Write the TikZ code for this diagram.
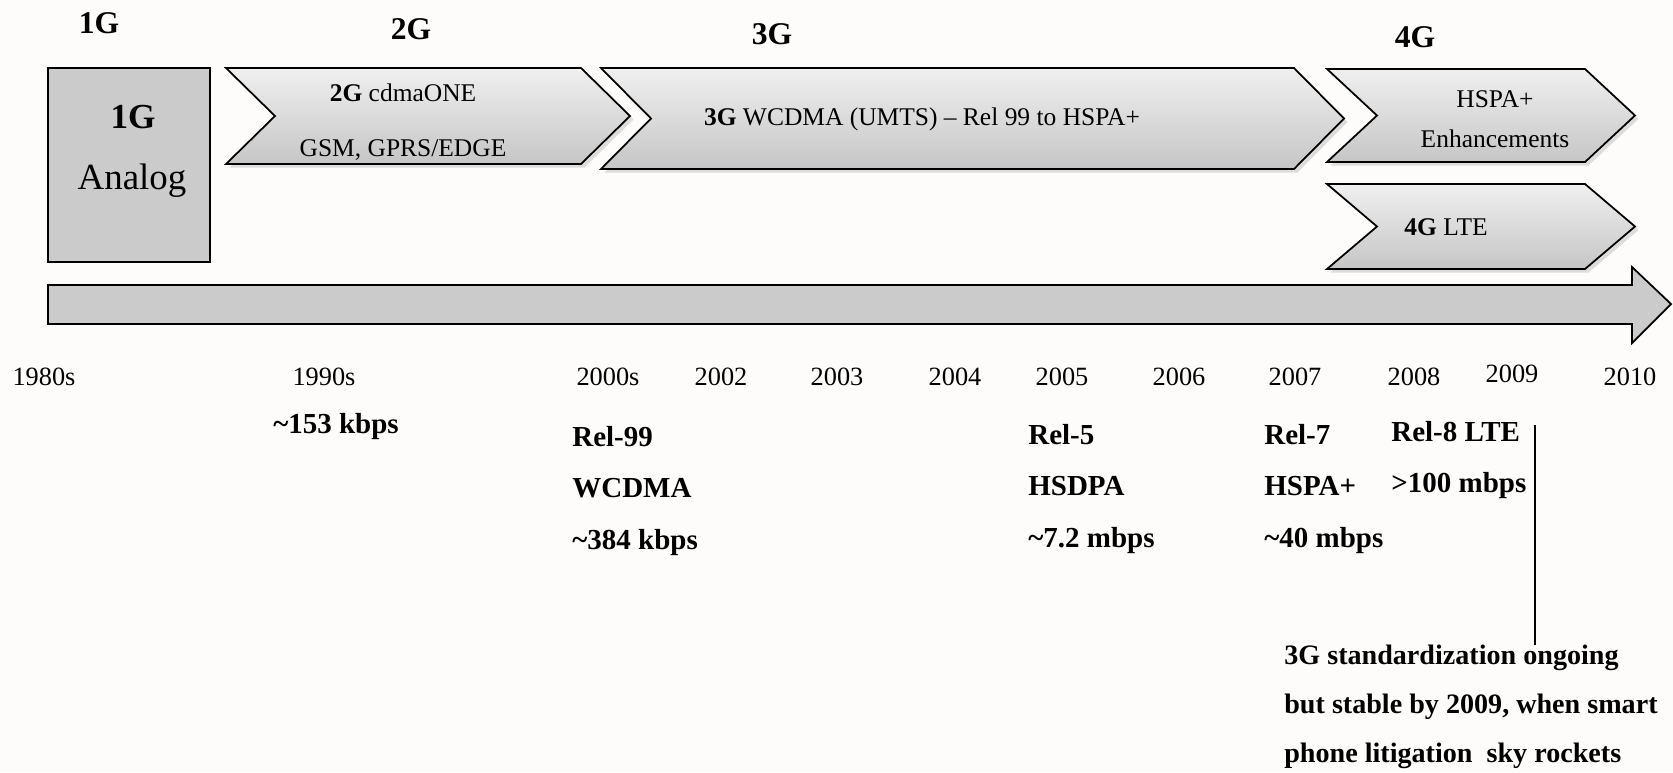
\documentclass[tikz,border=0pt]{standalone}
\usepackage{fontspec}
\setmainfont{Liberation Serif}
\usetikzlibrary{shadows}

\definecolor{paper}{HTML}{FDFCFA}
\definecolor{boxgray}{HTML}{CBCBCB}

% chevron: left, right, top, bottom, depth
\newcommand{\chevron}[5]{%
  \path[chev] (#1,#3) -- (#2-#5,#3) -- (#2,{(#3+#4)/2}) -- (#2-#5,#4)
    -- (#1,#4) -- (#1+#5,{(#3+#4)/2}) -- cycle;}

\begin{document}
\begin{tikzpicture}[x=0.02cm, y=-0.02cm]
  \tikzstyle{chev} = [draw=black, line width=1pt, line join=miter,
                      top color=gray!12, bottom color=gray!45,
                      drop shadow={shadow xshift=2pt, shadow yshift=-2pt,
                                   opacity=.25}]
  \tikzstyle{box} = [draw=black, line width=1pt, fill=boxgray]
  \tikzstyle{gen} = [font=\fontsize{18}{20}\selectfont\bfseries]
  \tikzstyle{chevtxt} = [font=\fontsize{14.5}{31}\selectfont, align=center]
  \tikzstyle{year} = [font=\fontsize{15}{18}\selectfont]
  \tikzstyle{rel} = [font=\fontsize{16.5}{29.2}\selectfont\bfseries,
                     anchor=west, align=left, inner sep=0]

\useasboundingbox (0,0) rectangle (1673,772);
\fill[paper] (0,0) rectangle (1673,772);

% generations
\node[gen] (t1) at (99,23) {1G};
\node[gen] (t2) at (411,29) {2G};
\node[gen] (t3) at (772,34) {3G};
\node[gen] (t4) at (1415,37) {4G};

\draw[box] (48,68) rectangle (210,262);
\node[font=\fontsize{20}{22}\selectfont\bfseries] (a1) at (133,117) {1G};
\node[font=\fontsize{21}{23}\selectfont] (a2) at (132,181) {Analog};

\chevron{226}{630}{68}{164}{49}
\node[chevtxt] (c2) at (403,122) {\textbf{2G} cdmaONE\\GSM, GPRS/EDGE};
\chevron{601}{1344}{68}{169}{50}
\node[chevtxt] (c3) at (922,119) {\textbf{3G} WCDMA (UMTS) -- Rel 99 to HSPA+};
\chevron{1327}{1635}{69}{162}{50}
\node[chevtxt, font=\fontsize{14.5}{23}\selectfont] (c4a) at (1495,119)
  {HSPA+\\Enhancements};
\chevron{1327}{1635}{184}{269}{50}
\node[chevtxt] (c4b) at (1446,227) {\textbf{4G} LTE};

% time axis
\path[box] (48,285) -- (1632,285) -- (1632,267) -- (1671,304)
  -- (1632,343) -- (1632,324) -- (48,324) -- cycle;

\foreach \yr/\xx in {1980s/44, 1990s/324, 2000s/608, 2002/721, 2003/837,
                     2004/955, 2005/1062, 2006/1179, 2007/1295, 2008/1414,
                     2010/1630}
  \node[year] (y\yr) at (\xx,377) {\yr};
\node[year] (y2009) at (1512,374) {2009};

% releases
\node[rel, anchor=center] (r2g) at (336,427) {\textasciitilde153 kbps};
\node[rel] (r99) at (572,491) {Rel-99\\WCDMA\\\textasciitilde384 kbps};
\node[rel] (r5) at (1028,489) {Rel-5\\HSDPA\\\textasciitilde7.2 mbps};
\node[rel] (r7) at (1264,489) {Rel-7\\HSPA+\\\textasciitilde40 mbps};
\node[rel] (r8) at (1391,460) {Rel-8 LTE\\>100 mbps};

\coordinate (tick) at (1535,425);
\node[rel, font=\fontsize{16}{28}\selectfont\bfseries] (note) at (1284,707)
  {3G standardization ongoing\\but stable by 2009, when smart\\phone litigation\ \ sky rockets};
\draw[line width=1pt] (tick) -- (tick |- note.north);

\end{tikzpicture}
\end{document}
